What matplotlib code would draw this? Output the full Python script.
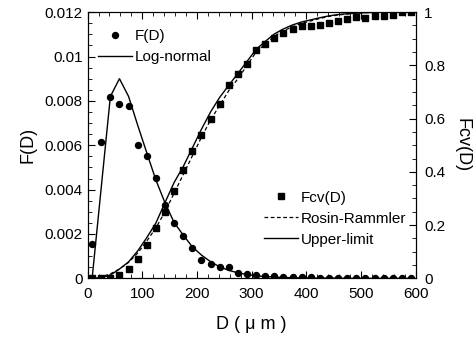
import numpy as np
import matplotlib
matplotlib.use("Agg")
import matplotlib.pyplot as plt
from matplotlib.ticker import MultipleLocator, FuncFormatter

plt.rcParams['font.family'] = ['Liberation Sans', 'DejaVu Sans']

# size classes (um)
D = [8.3, 25, 41.7, 58.3, 75, 91.7, 108.3, 125, 141.7, 158.3, 175, 191.7,
     208.3, 225, 241.7, 258.3, 275, 291.7, 308.3, 325, 341.7, 358.3, 375, 391.7,
     408.3, 425, 441.7, 458.3, 475, 491.7, 508.3, 525, 541.7, 558.3, 575, 591.7]

# measured number density F(D)
F = [0.00155, 0.00613, 0.00819, 0.00787, 0.00775, 0.0060, 0.0055, 0.00452,
     0.0033, 0.00248, 0.00191, 0.00135, 0.00083, 0.00066, 0.0005, 0.0005,
     0.00023, 0.0002, 0.00015, 0.00011, 0.0001, 0.00008, 0.00006, 0.00005,
     0.00004, 0.00003, 0.00003, 0.00002, 0.00002, 0.00002, 0.00001, 0.00001,
     0.00001, 0.0, 0.0, 0.0]

# log-normal fit
F_lognormal = [0.0, 0.0041, 0.0082, 0.0090, 0.0082, 0.0069, 0.00566, 0.00443,
               0.0034, 0.00252, 0.00195, 0.00142, 0.00105, 0.00075, 0.00052,
               0.00036, 0.00025, 0.00017, 0.00012, 0.00008, 0.00006, 0.00004,
               0.00003, 0.00002, 0.00002, 0.00001, 0.00001, 0.00001, 0.0, 0.0,
               0.0, 0.0, 0.0, 0.0, 0.0, 0.0]

# measured cumulative volume fraction Fcv(D)
Fcv = [0.0, 0.0, 0.003, 0.011, 0.036, 0.071, 0.124, 0.19, 0.25, 0.328, 0.407,
       0.479, 0.539, 0.598, 0.655, 0.726, 0.768, 0.807, 0.856, 0.880, 0.901,
       0.920, 0.936, 0.948, 0.948, 0.952, 0.959, 0.967, 0.974, 0.981, 0.979,
       0.986, 0.986, 0.990, 1.0, 1.0]

# Rosin-Rammler fit
Fcv_rosin = [0.0, 0.006, 0.017, 0.035, 0.06, 0.095, 0.14, 0.19, 0.25, 0.32,
             0.39, 0.46, 0.53, 0.595, 0.65, 0.705, 0.75, 0.80, 0.85, 0.88,
             0.91, 0.93, 0.945, 0.958, 0.967, 0.976, 0.984, 0.989, 0.993,
             0.996, 0.998, 0.999, 1.0, 1.0, 1.0, 1.0]

# upper-limit fit
Fcv_upper = [0.0, 0.003, 0.012, 0.035, 0.062, 0.103, 0.153, 0.208, 0.285,
             0.36, 0.42, 0.49, 0.56, 0.625, 0.68, 0.725, 0.77, 0.815, 0.86,
             0.89, 0.918, 0.937, 0.952, 0.963, 0.971, 0.979, 0.986, 0.991,
             0.994, 0.996, 0.998, 0.999, 1.0, 1.0, 1.0, 1.0]

FS = 11
fig = plt.figure(figsize=(4.76, 3.37), dpi=100)
ax = fig.add_axes([0.184, 0.174, 0.689, 0.79])
ax2 = ax.twinx()

l1, = ax.plot(D, F, 'o', color='black', markersize=4.3, label='F(D)')
l2, = ax.plot(D, F_lognormal, '-', color='black', lw=1.0, label='Log-normal')

s1, = ax2.plot(D, Fcv, 's', color='black', markersize=4.8, label='Fcv(D)')
s2, = ax2.plot(D, Fcv_rosin, '--', color='black', lw=0.9, dashes=(3, 2),
               label='Rosin-Rammler')
s3, = ax2.plot(D, Fcv_upper, '-', color='black', lw=1.0, label='Upper-limit')

ax.set_xlim(0, 600)
ax.set_ylim(0, 0.012)
ax2.set_ylim(0, 1)

ax.xaxis.set_major_locator(MultipleLocator(100))
ax.xaxis.set_minor_locator(MultipleLocator(20))
ax.yaxis.set_major_locator(MultipleLocator(0.002))
ax.yaxis.set_minor_locator(MultipleLocator(0.0005))
ax2.yaxis.set_major_locator(MultipleLocator(0.2))
ax2.yaxis.set_minor_locator(MultipleLocator(0.05))

fmt = FuncFormatter(lambda v, p: '0' if abs(v) < 1e-12 else ('%g' % round(v, 6)))
ax.yaxis.set_major_formatter(fmt)
ax2.yaxis.set_major_formatter(fmt)

ax.tick_params(axis='both', which='both', direction='in', top=True,
               labelsize=FS)
ax.tick_params(which='major', length=5)
ax.tick_params(which='minor', length=3)
ax.tick_params(axis='x', pad=6)
ax2.tick_params(axis='y', which='both', direction='in', labelsize=FS)
ax2.tick_params(which='major', length=5, pad=6)
ax2.tick_params(which='minor', length=3)

ax.set_xlabel('D ( μ m )', fontsize=13, labelpad=11)
ax.set_ylabel('F(D)', fontsize=13, labelpad=6)
ax2.set_ylabel('Fcv(D)', fontsize=13, rotation=270, labelpad=18)

ax.legend(handles=[l1, l2], loc='upper left', bbox_to_anchor=(0.0, 0.975),
          frameon=False, fontsize=FS, handlelength=2.2, handletextpad=0.2,
          labelspacing=0.45, borderaxespad=0.3)
ax2.legend(handles=[s1, s2, s3], loc='lower right',
           bbox_to_anchor=(1.0, 0.085), frameon=False, fontsize=FS,
           handlelength=2.2, handletextpad=0.2, labelspacing=0.45,
           borderaxespad=0.2)

fig.savefig('out.png', dpi=100)
